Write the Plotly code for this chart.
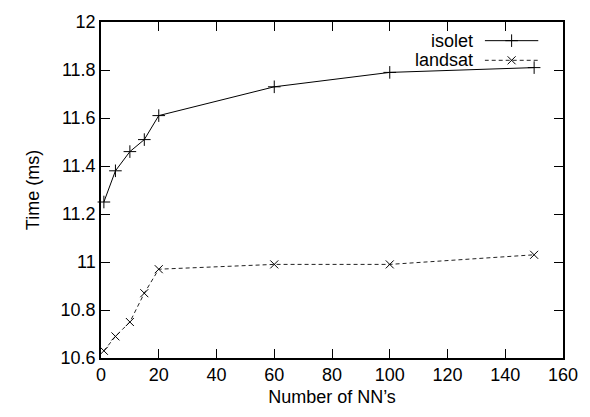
import plotly.graph_objects as go

nn = [1, 5, 10, 15, 20, 60, 100, 150]
isolet = [11.25, 11.38, 11.46, 11.51, 11.61, 11.73, 11.79, 11.81]
landsat = [10.63, 10.69, 10.75, 10.87, 10.97, 10.99, 10.99, 11.03]
series_names = ["isolet", "landsat"]
x_ticks = [0, 20, 40, 60, 80, 100, 120, 140, 160]
y_ticks = [10.6, 10.8, 11.0, 11.2, 11.4, 11.6, 11.8, 12.0]
y_tick_text = ["10.6", "10.8", "11", "11.2", "11.4", "11.6", "11.8", "12"]

FONT = "Liberation Sans, Arial, sans-serif"
FS = 18

fig = go.Figure()
fig.add_trace(go.Scatter(
    x=nn, y=isolet, mode="lines+markers", name=series_names[0],
    line=dict(color="black", width=1), cliponaxis=False,
    marker=dict(symbol="cross-thin", size=9, line=dict(color="black", width=1)),
    showlegend=False))
fig.add_trace(go.Scatter(
    x=nn, y=landsat, mode="lines+markers", name=series_names[1],
    line=dict(color="#222222", width=1, dash="4px,3px"), cliponaxis=False,
    marker=dict(symbol="x-thin", size=8, line=dict(color="black", width=1)),
    showlegend=False))

# gnuplot-style key (text left, sample right) drawn on an overlay axis
fig.add_trace(go.Scatter(x=[0, 1], y=[1.0, 1.0], xaxis="x2", yaxis="y2", mode="lines",
                         line=dict(color="black", width=1), showlegend=False, hoverinfo="skip"))
fig.add_trace(go.Scatter(x=[0.5], y=[1.0], xaxis="x2", yaxis="y2", mode="markers",
                         cliponaxis=False,
                         marker=dict(symbol="cross-thin", size=9, line=dict(color="black", width=1)),
                         showlegend=False, hoverinfo="skip"))
fig.add_trace(go.Scatter(x=[0, 1], y=[0.0, 0.0], xaxis="x2", yaxis="y2", mode="lines",
                         line=dict(color="#222222", width=1, dash="4px,3px"), showlegend=False,
                         hoverinfo="skip"))
fig.add_trace(go.Scatter(x=[0.5], y=[0.0], xaxis="x2", yaxis="y2", mode="markers",
                         cliponaxis=False,
                         marker=dict(symbol="x-thin", size=8, line=dict(color="black", width=1)),
                         showlegend=False, hoverinfo="skip"))

ax_common = dict(showline=True, linecolor="black", linewidth=1.5, mirror="ticks",
                 ticks="inside", ticklen=9, tickcolor="black", tickwidth=1.2,
                 showgrid=False, zeroline=False,
                 tickfont=dict(family=FONT, size=FS, color="black"))

fig.update_layout(
    width=590, height=417,
    margin=dict(l=101, r=17, t=16, b=59),
    paper_bgcolor="white", plot_bgcolor="rgba(0,0,0,0)",
    font=dict(family=FONT, size=FS, color="black"),
    xaxis=dict(range=[0, 160], tickvals=x_ticks,
               title=dict(text="Number of NN’s", font=dict(family=FONT, size=FS), standoff=6),
               **ax_common),
    yaxis=dict(range=[10.6, 12.0], tickvals=y_ticks, ticktext=y_tick_text,
               title=dict(text="Time (ms)", font=dict(family=FONT, size=FS), standoff=16),
               **ax_common),
    xaxis2=dict(domain=[(493 - 101) / 472, (548 - 101) / 472], range=[0, 1], visible=False,
                anchor="y2", fixedrange=True),
    yaxis2=dict(domain=[1 - (65 - 16) / 342, 1 - (25 - 16) / 342], range=[-0.5, 1.5],
                visible=False, anchor="x2", fixedrange=True),
    annotations=[
        dict(text=series_names[0], xref="paper", yref="paper",
             x=(483 - 101) / 472, y=1 - (35 - 16) / 342, xanchor="right", yanchor="middle",
             showarrow=False, font=dict(family=FONT, size=FS)),
        dict(text=series_names[1], xref="paper", yref="paper",
             x=(483 - 101) / 472, y=1 - (55 - 16) / 342, xanchor="right", yanchor="middle",
             showarrow=False, font=dict(family=FONT, size=FS)),
    ],
)

fig.write_html("out.html")
